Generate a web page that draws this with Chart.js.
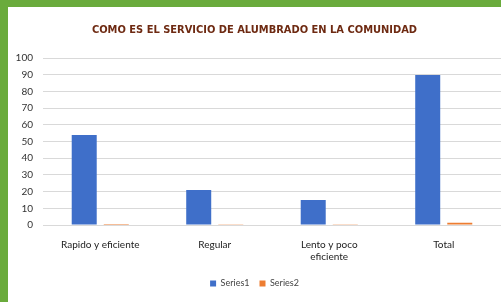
<!DOCTYPE html>
<html>
<head>
<meta charset="utf-8">
<script src="https://cdn.jsdelivr.net/npm/chart.js@4.4.0/dist/chart.umd.min.js"></script>
<style>
  body { margin: 0; background: #fff; }
  #wrap {
    width: 493px; height: 295px;
    border-top: 7px solid #6aab3c;
    border-left: 8px solid #6aab3c;
    background: #fff;
  }
</style>
</head>
<body>
<div id="wrap"><canvas id="chart" width="493" height="295"></canvas></div>
<script>
// data
const categories = ["Rapido y eficiente", "Regular", ["Lento y poco", "eficiente"], "Total"];
const series1 = [54, 21, 15, 90];
const series2 = [0.6, 0.2, 0.2, 1.3];
const yTicks = { min: 0, max: 100, step: 10 };

const labelFont = { family: "Lato", size: 10 };

new Chart(document.getElementById("chart"), {
  type: "bar",
  data: {
    labels: categories,
    datasets: [
      { label: "Series1", data: series1, backgroundColor: "#3f6fc9" },
      { label: "Series2", data: series2, backgroundColor: "#ed7d31" }
    ]
  },
  options: {
    responsive: false,
    animation: false,
    layout: { padding: { left: 0, right: 0, top: 4, bottom: 4 } },
    datasets: { bar: { categoryPercentage: 0.56, barPercentage: 0.78 } },
    plugins: {
      title: {
        display: true,
        text: "COMO ES EL SERVICIO DE ALUMBRADO EN LA COMUNIDAD",
        color: "#6e2a12",
        font: { family: "DejaVu Sans Condensed", size: 11, weight: "bold" },
        padding: { top: 13, bottom: 21 }
      },
      legend: {
        position: "bottom",
        labels: {
          boxWidth: 6, boxHeight: 6, padding: 10,
          color: "#444", font: { family: "Lato", size: 9 }
        }
      },
      tooltip: { enabled: false }
    },
    scales: {
      x: {
        grid: { display: false },
        border: { color: "#d9d9d9" },
        ticks: { color: "#222", font: labelFont, maxRotation: 0, autoSkip: false, padding: 6 }
      },
      y: {
        min: yTicks.min, max: yTicks.max,
        grid: { color: "#d9d9d9", drawTicks: false },
        border: { display: false },
        ticks: { stepSize: yTicks.step, color: "#333", font: labelFont, padding: 10 },
        afterFit: s => { s.width = 35; }
      }
    }
  }
});
</script>
</body>
</html>
